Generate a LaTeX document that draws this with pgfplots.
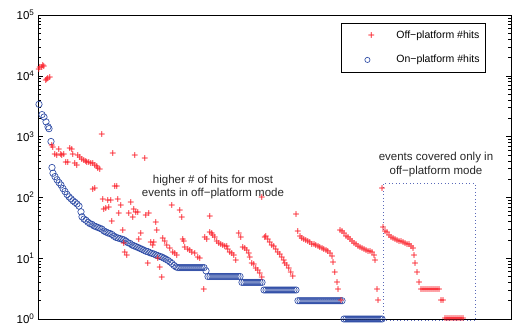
\documentclass[border=0pt]{standalone}
\usepackage{fontspec}
\setmainfont{Liberation Sans}
\usepackage{pgfplots}
\pgfplotsset{compat=1.18}
\definecolor{offred}{RGB}{250,30,40}
\definecolor{onblue}{RGB}{45,75,165}
\definecolor{boxblue}{RGB}{90,105,185}
\begin{document}
\begin{tikzpicture}
\begin{axis}[
  width=473pt, height=304pt, scale only axis,
  xmin=38, xmax=511, ymin=1, ymax=100000, ymode=log,
  xtick=\empty,
  ytick={1,10,100,1000,10000,100000},
  yticklabels={10\textsuperscript{0},10\textsuperscript{1},10\textsuperscript{2},10\textsuperscript{3},10\textsuperscript{4},10\textsuperscript{5}},
  tick align=inside,
  major tick length=5pt, minor tick length=3pt,
  tick style={black, line width=0.5pt},
  axis line style={black, line width=0.9pt},
  clip=false,
  font=\fontsize{11.5}{13}\selectfont,
  yticklabel style={font=\fontsize{11.5}{13}\selectfont},
  legend style={at={(0.947,0.974)}, anchor=north east, draw=black, line width=0.7pt,
    font=\fontsize{10.5}{12}\selectfont, inner xsep=4pt, inner ysep=6pt, row sep=11pt},
  legend cell align=left,
]
% on-platform (drawn first)
\addplot[only marks, mark=o, mark size=3.2pt, color=onblue, mark options={solid, line width=0.65pt}, forget plot] coordinates {
(39,3400)(42,2300)(44,2100)(46,1750)(48,1450)(49,1350)(51,830)(52,310)(53,250)(55,220)(57,195)(59,175)(61,160)(63,140)(65,125)(67,112)(69,102)(71,95)(73,88)(75,83)(77,78)(79,72)(81,58)(82,48)(84,44)(86,42)(88,39)(90,37)(92,36)(94,34)(96,33)(98,32)(100,31)(102,30)(104,28)(106,27)(108,26)(110,25.5)(112,24.5)(114,23)(116,22)(118,21.5)(120,21)(122,20.5)(124,20)(126,19)(128,18)(130,17.5)(132,16.5)(134,16)(136,15.5)(138,15)(140,14.5)(142,14)(144,13.5)(146,13)(148,12.8)(150,12.3)(152,12)(154,11.7)(156,11.3)(158,11)(160,10.7)(162,10.4)(164,10)(166,9.6)(168,9.2)(170,8.7)(172,8.2)(174,7.6)(176,7.2)
(178,7)(180,7)(182,7)(184,7)(186,7)(188,7)(190,7)(192,7)(194,7)(196,7)(198,7)(200,7)(202,7)(204,7)(206,6.2)
(208,5)(210,5)(212,5)(214,5)(216,5)(218,5)(220,5)(222,5)(224,5)(226,5)(228,5)(230,5)(232,5)(234,5)(236,5)(238,5)(240,5)
(242,4)(244,4)(246,4)(248,4)(250,4)(252,4)(254,4)(256,4)(258,4)(260,4)(262,4)
(264,3)(266,3)(268,3)(270,3)(272,3)(274,3)(276,3)(278,3)(280,3)(282,3)(284,3)(286,3)(288,3)(290,3)(292,3)(294,3)(296,3)
(298,2)(300,2)(302,2)(304,2)(306,2)(308,2)(310,2)(312,2)(314,2)(316,2)(318,2)(320,2)(322,2)(324,2)(326,2)(328,2)(330,2)(332,2)(334,2)(336,2)(338,2)(340,2)(342,2)
(344,1)(346,1)(348,1)(350,1)(352,1)(354,1)(356,1)(358,1)(360,1)(362,1)(364,1)(366,1)(368,1)(370,1)(372,1)(374,1)(376,1)(378,1)(380,1)(382,1)
};
% off-platform: drawn as "+" glyphs at each data point
\addplot[only marks, mark=none, forget plot,
  nodes near coords={+},
  every node near coord/.append style={anchor=center, inner sep=0pt, text=offred, font=\fontsize{12}{12}\selectfont, yshift=-0.5pt}] coordinates {
(39,12500)(40,13500)(42,13500)(43,14500)(44,14000)(46,8300)(47,8600)(48,8900)(50,9500)
(52,700)(53,660)(55,500)(57,490)(59,610)(61,510)(62,490)(64,500)(66,370)(68,380)(70,640)(72,620)(73,500)(75,360)(77,330)(78,480)(80,450)(82,420)(84,400)(86,390)(87,370)(89,380)(91,360)(93,355)(95,340)(97,320)(98,300)(100,290)
(102,1100)(113,520)(135,490)(145,430)
(93,135)(95,140)(103,93)(104,63)(106,66)(108,90)(109,68)(111,90)(112,40)(115,150)(117,150)(118,93)(119,55)(121,74)(123,29)(124,17.6)(125,12.5)(127,11)(129,55)(131,83)(133,47)(134,63)(136,57)(138,57)(139,20)(141,25)(146,50)(148,8.3)(149,55)(151,18)(153,16)(154,18)(156,39)(157,29)(158,10)(160,6.9)(162,4.9)(172,74)(180,61)(182,47)(210,49)(262,100)(204,3.1)
(163,21)(165,19)(167,16.3)(170,14.6)(173,12.6)(175,12)(177,11)
(183,20)(184,19)(185,15)(188,14)(190,13.5)(192,12.6)(195,12)(198,10.4)(200,10)
(205,22)(207,20)(210,26)(212,25)(213,24)(215,22)(217,18.5)(219,17.5)(221,16.5)(223,16)(225,15.8)(227,15.5)(228,14)(230,12.5)(232,12)(234,11)(236,9.3)
(239,25)(241,22)(243,15)(245,14.5)(247,13.5)(249,12)(250,10.4)(252,8.3)(254,8)(256,6.8)(258,6.2)(260,5.7)(262,4.9)
(265,22)(266,23)(268,20)(270,18)(272,16.3)(274,15.5)(276,14)(278,12.5)(280,11.5)(282,10.2)(284,9)(285,8.3)(287,7.5)(289,6.8)(291,5.8)(293,5)
(296,52)(298,27)(300,23)(302,21)(304,20)(306,19.5)(308,19)(310,18)(312,17)(314,16.5)(316,16)(318,15.5)(320,14.8)(322,14.2)(324,13.8)(326,13.2)(328,12.8)(330,12)(332,10.5)(333,8.6)(335,5.9)(337,4)(338,3)(341,2)
(340,29)(342,27)(344,25)(346,23)(348,21.5)(350,20.5)(352,19)(354,17.5)(356,16.5)(358,15.5)(360,15)(362,14.5)(364,14)(366,13.5)(368,13)(370,12.8)(372,12.3)(374,11)(375,9.3)(377,3.1)(378,2)
(382,140)(383,32)(385,27)(387,26)(389,24)(391,22)(393,21)(395,20)(397,19.5)(399,19)(401,18.5)(403,18)(405,17.5)(407,17)(409,16.5)(411,15.8)(413,14.5)(414,11)(415,8.3)(417,5.9)(419,4)
(421,3)(423,3)(425,3)(427,3)(429,3)(431,3)(433,3)(435,3)(437,3)(439,3)(441,2)(443,2)
(445,1)(447,1)(449,1)(451,1)(453,1)(455,1)(457,1)(459,1)(461,1)(463,1)
};
\addlegendimage{legend image code/.code={\path[draw=none,fill=none] (-22pt,-3pt) rectangle (27pt,3pt); \node[inner sep=0pt, text=offred, font=\fontsize{12}{12}\selectfont, yshift=-0.5pt] at (0pt,0pt) {+};}}
\addlegendentry{Off−platform \#hits}
\addlegendimage{legend image code/.code={\path[draw=none,fill=none] (-22pt,-3pt) rectangle (27pt,3pt); \draw[onblue, line width=0.65pt] (0pt,0pt) circle[radius=2.6pt];}}
\addlegendentry{On−platform \#hits}
\draw[boxblue, line width=0.9pt, dash pattern=on 0.9pt off 2.6pt] (axis cs:383,0.93) rectangle (axis cs:475,170);
\node[align=center, font=\fontsize{11.5}{13.5}\selectfont, text=black!85] at (axis cs:213,148.6) {higher \# of hits for most\\events in off−platform mode};
\node[align=center, font=\fontsize{11.5}{13.5}\selectfont, text=black!85] at (axis cs:436,347) {events covered only in\\off−platform mode};
\end{axis}
\pgfresetboundingbox
\path[use as bounding box] (-38pt,-8pt) rectangle (478pt,319pt);
\end{tikzpicture}
\end{document}
